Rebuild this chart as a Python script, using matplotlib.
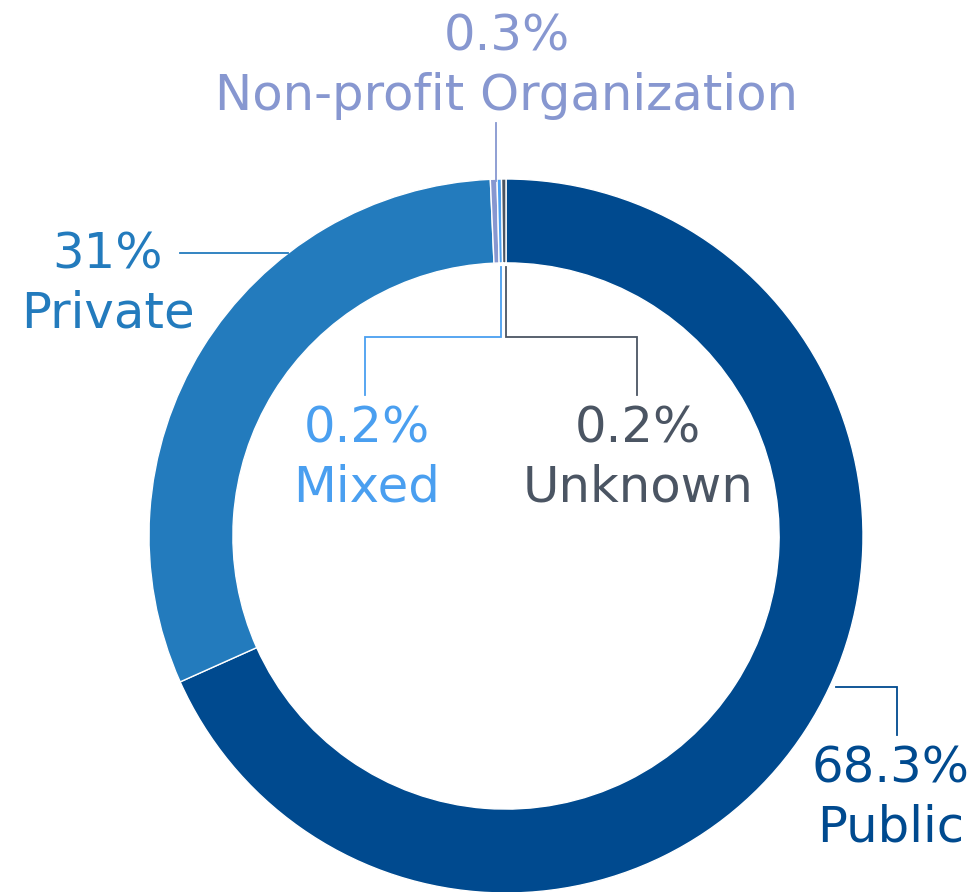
import matplotlib.pyplot as plt

labels = ['Public', 'Private', 'Non-profit Organization', 'Mixed', 'Unknown']
shares = [68.3, 31, 0.3, 0.2, 0.2]
share_text = ['68.3%', '31%', '0.3%', '0.2%', '0.2%']
colors = ['#004a8f', '#237bbd', '#8797d0', '#4a9ff0', '#4b5563']

W, H = 979, 892


def px(x, y):
    # pixel from top-left -> axes coords (y up)
    return x, H - y


fig = plt.figure(figsize=(W / 100, H / 100), dpi=100)
ax = fig.add_axes([0, 0, 1, 1])
ax.set_xlim(0, W)
ax.set_ylim(0, H)
ax.set_aspect('equal')
ax.axis('off')

cx, cy = px(506, 536)
ax.pie(shares, colors=colors, startangle=90, counterclock=False,
       center=(cx, cy), radius=357,
       wedgeprops=dict(width=357 * 0.235, edgecolor='white', linewidth=1))
ax.set_xlim(0, W)
ax.set_ylim(0, H)

# label positions and leader lines (pixel coords)
label_pos = {
    'Public': (891, 798),
    'Private': (108, 284),
    'Non-profit Organization': (507, 66),
    'Mixed': (367, 458),
    'Unknown': (638, 458),
}
leaders = {
    'Public': [(836, 687), (897, 687), (897, 735)],
    'Private': [(288, 253), (180, 253)],
    'Non-profit Organization': [(496, 181), (496, 123)],
    'Mixed': [(501, 267), (501, 337), (365, 337), (365, 395)],
    'Unknown': [(506, 267), (506, 337), (637, 337), (637, 395)],
}

for lab, txt, col in zip(labels, share_text, colors):
    pts = [px(*p) for p in leaders[lab]]
    ax.plot([p[0] for p in pts], [p[1] for p in pts], color=col, lw=1.3,
            solid_joinstyle='miter')
    x, y = px(*label_pos[lab])
    ax.text(x, y, f'{txt}\n{lab}', color=col, fontsize=35.8, ha='center',
            va='center', linespacing=1.3, family='DejaVu Sans')

fig.savefig('out.png', dpi=100)
